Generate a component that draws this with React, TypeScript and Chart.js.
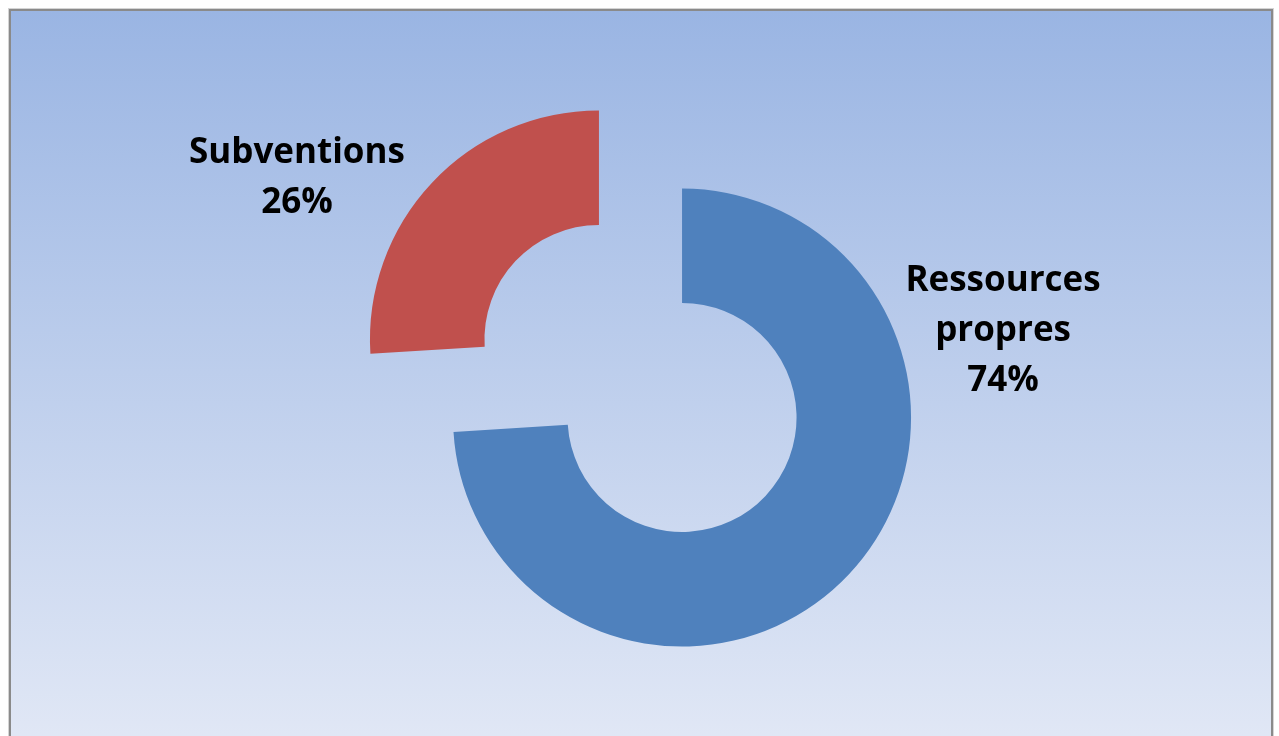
import React, { useEffect, useRef } from "react";
import { Chart, registerables } from "chart.js";

Chart.register(...registerables);

// ---- data ----
const categories: string[][] = [["Ressources", "propres"], ["Subventions"]];
const values: number[] = [74, 26];
const sliceColors: string[] = ["#4f81bd", "#c0504d"];

// ---- layout config (not data) ----
const EXPLODE = 57;
const LABEL_ANCHORS = [
  { dx: 321, dy: -127 },
  { dx: -302, dy: -176 },
];

const explodePlugin = {
  id: "explodeSlices",
  afterDatasetsUpdate(chart: any) {
    const meta = chart.getDatasetMeta(0);
    meta.data.forEach((arc: any) => {
      const mid = (arc.startAngle + arc.endAngle) / 2;
      arc.x += Math.cos(mid) * EXPLODE;
      arc.y += Math.sin(mid) * EXPLODE;
    });
  },
};

const labelPlugin = {
  id: "sliceLabels",
  afterDatasetsDraw(chart: any) {
    const ctx = chart.ctx;
    const meta = chart.getDatasetMeta(0);
    const total = values.reduce((a, b) => a + b, 0);
    ctx.save();
    ctx.font = "bold 35px 'Open Sans'";
    ctx.fillStyle = "#000000";
    ctx.textAlign = "center";
    ctx.textBaseline = "alphabetic";
    meta.data.forEach((arc: any, i: number) => {
      const lines = [...categories[i], Math.round((values[i] / total) * 100) + "%"];
      const a = LABEL_ANCHORS[i];
      lines.forEach((ln, k) => {
        ctx.fillText(ln, arc.x + a.dx, arc.y + a.dy + k * 50);
      });
    });
    ctx.restore();
  },
};

export default function App() {
  const ref = useRef<HTMLCanvasElement | null>(null);

  useEffect(() => {
    if (!ref.current) return;
    const chart = new Chart(ref.current, {
      type: "doughnut",
      data: {
        labels: categories.map((c) => c.join(" ")),
        datasets: [
          {
            data: values,
            backgroundColor: sliceColors,
            borderWidth: 0,
          },
        ],
      },
      options: {
        animation: false,
        responsive: false,
        maintainAspectRatio: false,
        radius: 229,
        cutout: "50%",
        layout: { padding: { top: 21, left: 2, right: 0, bottom: 0 } },
        plugins: {
          legend: { display: false },
          tooltip: { enabled: false },
        },
      },
      plugins: [explodePlugin, labelPlugin],
    });
    return () => chart.destroy();
  }, []);

  return (
    <div style={{ position: "fixed", left: 0, top: 0, width: 1279, height: 736, overflow: "hidden", background: "#ffffff" }}>
      <div
        style={{
          position: "absolute",
          left: 8,
          top: 8,
          width: 1266,
          height: 760,
          boxSizing: "border-box",
          border: "1px solid #d4d4d4",
        }}
      >
        <div
          style={{
            width: "100%",
            height: "100%",
            boxSizing: "border-box",
            border: "2px solid #8a8a8a",
            background: "linear-gradient(to bottom, #9ab5e3 0%, #e3e9f6 100%)",
          }}
        />
      </div>
      <canvas
        ref={ref}
        width={1279}
        height={736}
        style={{ position: "absolute", left: 0, top: 0, width: 1279, height: 736 }}
      />
    </div>
  );
}
